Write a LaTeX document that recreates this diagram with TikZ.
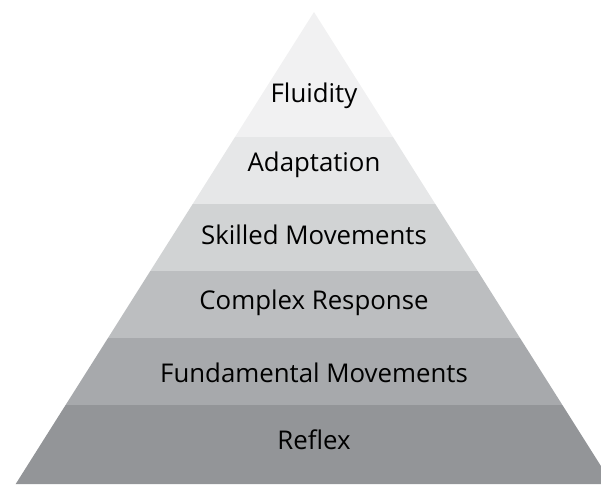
\documentclass[tikz,border=0pt]{standalone}
\usepackage{fontspec}
\setmainfont{Open Sans}
\definecolor{cA}{HTML}{F1F1F2}
\definecolor{cB}{HTML}{E6E7E8}
\definecolor{cC}{HTML}{D1D3D4}
\definecolor{cD}{HTML}{BCBEC0}
\definecolor{cE}{HTML}{A7A9AC}
\definecolor{cF}{HTML}{939598}
\tikzset{
  band/.style={draw=none},
  lbl/.style={font=\fontsize{25.8}{30}\selectfont, text=black, inner sep=0pt, anchor=center}
}
\begin{document}
\begin{tikzpicture}[x=1pt,y=-1pt]
\useasboundingbox (0,0) rectangle (601,484);
\fill[band, cA] (314,12) -- (393,137) -- (235,137) -- cycle;
\fill[band, cB] (235,137) -- (393,137) -- (435.3,204) -- (192.7,204) -- cycle;
\fill[band, cC] (192.7,204) -- (435.3,204) -- (477.7,271) -- (150.3,271) -- cycle;
\fill[band, cD] (150.3,271) -- (477.7,271) -- (520,338) -- (108,338) -- cycle;
\fill[band, cE] (108,338) -- (520,338) -- (562.4,405) -- (65.6,405) -- cycle;
\fill[band, cF] (65.6,405) -- (562.4,405) -- (612.3,484) -- (15.7,484) -- cycle;
\node[lbl] (fl) at (314,96) {Fluidity};
\node[lbl] (ad) at (314,165) {Adaptation};
\node[lbl] (sk) at (314,235) {Skilled Movements};
\node[lbl] (co) at (314,303) {Complex Response};
\node[lbl] (fu) at (314,373) {Fundamental Movements};
\node[lbl] (re) at (314,440) {Reflex};
\end{tikzpicture}
\end{document}
